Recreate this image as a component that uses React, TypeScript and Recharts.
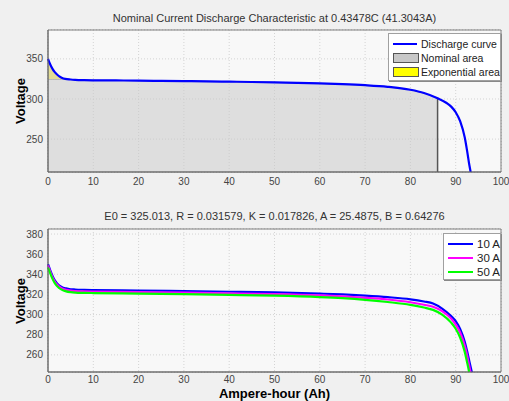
import React from 'react';
import { ComposedChart, LineChart, Line, Area, XAxis, YAxis, CartesianGrid, ReferenceLine, ReferenceArea } from 'recharts';

// x axis (Ampere-hour) ticks shared by both panels
const xTicks = [0, 10, 20, 30, 40, 50, 60, 70, 80, 90, 100];
const topYTicks = [250, 300, 350];
const bottomYTicks = [260, 280, 300, 320, 340, 360, 380];

// top panel: nominal current discharge curve
const ahNominal = [0, 0.5, 1, 1.5, 2, 2.5, 3, 3.8, 5, 6, 8, 10, 15, 20, 25, 30, 35, 40, 45, 50, 55, 60, 65, 70, 75, 80, 83, 86, 88, 89, 90, 91, 92, 92.5, 93, 93.3];
const voltNominal = [350, 343, 337.5, 333.5, 330.5, 328.2, 326.6, 325, 324.3, 323.9, 323.5, 323.3, 323.1, 322.9, 322.6, 322.3, 322, 321.6, 321.2, 320.7, 320.1, 319.4, 318.5, 317.2, 315.2, 311.5, 307.5, 301, 295, 290.5, 283.5, 272, 252, 236, 218, 209];
const qNom = 86;
const qExp = 3.8;
const vExp = 325;

// bottom panel: discharge at several currents
const ahMulti = [0, 0.5, 1, 1.5, 2, 3, 4, 5, 6, 8, 10, 20, 30, 40, 50, 60, 65, 70, 75, 80, 83, 85, 87, 89, 90, 91, 92, 92.5, 93, 93.3, 93.6];
const volt10A = [350, 344, 338.5, 334, 331, 327.5, 326, 325.2, 324.9, 324.6, 324.4, 323.9, 323.3, 322.7, 322, 320.8, 320, 318.8, 317.3, 315.2, 313, 311, 306, 298.5, 293.5, 285.5, 273, 264, 254, 248, 242];
const volt30A = [349, 342.5, 337, 332.8, 329.8, 326.3, 324.6, 323.8, 323.4, 323.1, 322.9, 322.4, 321.8, 321.1, 320.3, 319, 318, 316.7, 315, 312.3, 309.8, 307.8, 303.5, 296, 290, 282, 269, 260, 249, 242, 235];
const volt50A = [347, 341, 335.5, 331.3, 328.3, 324.8, 323.1, 322.3, 321.9, 321.6, 321.4, 320.9, 320.3, 319.6, 318.8, 317.4, 316.3, 314.7, 312.5, 309.7, 307, 304.7, 300, 292, 286, 277, 263, 253, 242, 234, 226];

const topData = ahNominal.map((x, i) => ({
  ah: x,
  v: voltNominal[i],
  nominal: x <= qNom ? (x <= qExp ? vExp : voltNominal[i]) : null,
  exp: x <= qExp ? [vExp, voltNominal[i]] : null,
}));

const bottomData = ahMulti.map((x, i) => ({ ah: x, a10: volt10A[i], a30: volt30A[i], a50: volt50A[i] }));

const font = '"Liberation Sans", Arial, sans-serif';
const tick = { fontSize: 10, fill: '#444', fontFamily: font };

const legendBox: React.CSSProperties = {
  position: 'absolute', background: '#fff', border: '1px solid #a0a0a0',
  boxShadow: '1px 1px 0 #888', fontFamily: font, fontSize: 10.5, color: '#222',
  padding: '3px 4px', boxSizing: 'border-box', whiteSpace: 'nowrap',
};
const row: React.CSSProperties = { display: 'flex', alignItems: 'center', height: 14, whiteSpace: 'nowrap' };
const swatch = (bg: string, line: boolean, w: number): React.CSSProperties => line
  ? { flex: 'none', width: w, height: 2.5, background: bg, marginRight: 4 }
  : { flex: 'none', width: w, height: 10, background: bg, border: '1px solid #555', marginRight: 2, boxSizing: 'border-box' };

export default function App() {
  return (
    <div style={{ position: 'absolute', left: 0, top: 0, width: 509, height: 401, background: '#f0f0f0', overflow: 'hidden' }}>
      <div style={{ position: 'absolute', left: 48, width: 453, top: 11, textAlign: 'center', fontFamily: font, fontSize: 11, color: '#333', lineHeight: '14px' }}>
        Nominal Current Discharge Characteristic at 0.43478C (41.3043A)
      </div>
      <div style={{ position: 'absolute', top: 0, left: 0 }}>
        <ComposedChart width={509} height={200} data={topData} margin={{ top: 30, right: 8, bottom: 8, left: 8 }}>
          <ReferenceArea x1={0} x2={100} y1={209} y2={386} fill="#fff" stroke="none" />
          <CartesianGrid strokeDasharray="1 2" stroke="#a8a8a8" />
          <XAxis dataKey="ah" type="number" domain={[0, 100]} ticks={xTicks} height={20} tick={tick} tickLine={false} tickSize={0} tickMargin={6} axisLine={{ stroke: '#666' }} />
          <YAxis type="number" domain={[209, 386]} ticks={topYTicks} allowDataOverflow width={40} tick={tick} tickLine={false} tickSize={0} tickMargin={5} axisLine={{ stroke: '#666' }} />
          <Area type="linear" dataKey="nominal" fill="#c8c8c8" fillOpacity={0.55} stroke="#8a8a8a" strokeWidth={1} isAnimationActive={false} />
          <Area type="linear" dataKey="exp" fill="#e2dc94" fillOpacity={1} stroke="none" isAnimationActive={false} />
          <ReferenceLine segment={[{ x: qNom, y: 209 }, { x: qNom, y: 301 }]} stroke="#555" strokeWidth={1.5} />
          <ReferenceArea x1={0} x2={100} y1={209} y2={386} fill="none" stroke="#808080" />
          <Line type="monotone" dataKey="v" stroke="#0000ff" strokeWidth={2.2} dot={false} isAnimationActive={false} />
        </ComposedChart>
      </div>
      <div style={{ ...legendBox, left: 388, top: 33, width: 113, height: 48 }}>
        <div style={row}><span style={swatch('#0000ff', true, 24)} />Discharge curve</div>
        <div style={row}><span style={swatch('#c8c8c8', false, 26)} />Nominal area</div>
        <div style={row}><span style={swatch('#ffff00', false, 26)} />Exponential area</div>
      </div>
      <div style={{ position: 'absolute', left: 6, top: 94, width: 30, height: 14, transform: 'rotate(-90deg)', transformOrigin: '15px 7px', fontFamily: font, fontSize: 13, fontWeight: 'bold', lineHeight: '14px', whiteSpace: 'nowrap', display: 'flex', justifyContent: 'center' }}>
        Voltage
      </div>

      <div style={{ position: 'absolute', left: 48, width: 453, top: 209, textAlign: 'center', fontFamily: font, fontSize: 11, color: '#333', lineHeight: '14px' }}>
        E0 = 325.013, R = 0.031579, K = 0.017826, A = 25.4875, B = 0.64276
      </div>
      <div style={{ position: 'absolute', top: 200, left: 0 }}>
        <LineChart width={509} height={201} data={bottomData} margin={{ top: 29, right: 8, bottom: 9, left: 8 }}>
          <ReferenceArea x1={0} x2={100} y1={243} y2={385} fill="#fff" stroke="none" />
          <CartesianGrid strokeDasharray="1 2" stroke="#a8a8a8" />
          <XAxis dataKey="ah" type="number" domain={[0, 100]} ticks={xTicks} height={20} tick={tick} tickLine={false} tickSize={0} tickMargin={4} axisLine={{ stroke: '#666' }} />
          <YAxis type="number" domain={[243, 385]} ticks={bottomYTicks} allowDataOverflow width={40} tick={tick} tickLine={false} tickSize={0} tickMargin={5} axisLine={{ stroke: '#666' }} />
          <ReferenceArea x1={0} x2={100} y1={243} y2={385} fill="none" stroke="#808080" />
          <Line type="monotone" dataKey="a10" stroke="#0000ff" strokeWidth={2.2} dot={false} isAnimationActive={false} />
          <Line type="monotone" dataKey="a30" stroke="#ff00ff" strokeWidth={2.2} dot={false} isAnimationActive={false} />
          <Line type="monotone" dataKey="a50" stroke="#00ff00" strokeWidth={2.2} dot={false} isAnimationActive={false} />
        </LineChart>
      </div>
      <div style={{ ...legendBox, left: 443, top: 233, width: 58, height: 47, fontSize: 11.5 }}>
        <div style={row}><span style={swatch('#0000ff', true, 25)} />10 A</div>
        <div style={row}><span style={swatch('#ff00ff', true, 25)} />30 A</div>
        <div style={row}><span style={swatch('#00ff00', true, 25)} />50 A</div>
      </div>
      <div style={{ position: 'absolute', left: 6, top: 294, width: 30, height: 14, transform: 'rotate(-90deg)', transformOrigin: '15px 7px', fontFamily: font, fontSize: 13, fontWeight: 'bold', lineHeight: '14px', whiteSpace: 'nowrap', display: 'flex', justifyContent: 'center' }}>
        Voltage
      </div>
      <div style={{ position: 'absolute', left: 48, width: 453, top: 387, textAlign: 'center', fontFamily: font, fontSize: 13, fontWeight: 'bold', lineHeight: '14px' }}>
        Ampere-hour (Ah)
      </div>
    </div>
  );
}
